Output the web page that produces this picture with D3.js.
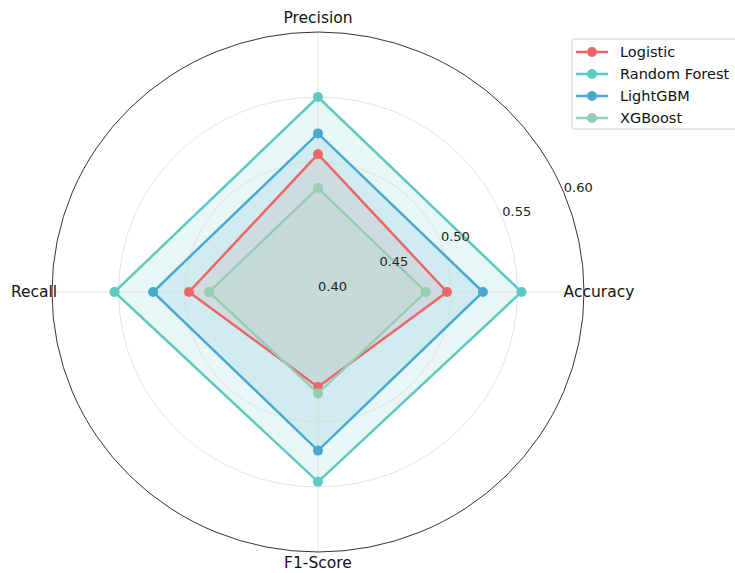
<!DOCTYPE html>
<html>
<head>
<meta charset="utf-8">
<script src="https://cdn.jsdelivr.net/npm/d3@7"></script>
<style>
  body { margin: 0; background: #fff; }
  svg { font-family: "DejaVu Sans", sans-serif; }
</style>
</head>
<body>
<svg id="radar" width="735" height="573"></svg>
<script>
// metrics (axes) and model scores
const metrics = ["Accuracy", "Precision", "Recall", "F1-Score"];
const models = ["Logistic", "Random Forest", "LightGBM", "XGBoost"];
const logistic = [0.497, 0.506, 0.497, 0.473];
const randomForest = [0.553, 0.550, 0.553, 0.546];
const lightGBM = [0.524, 0.522, 0.524, 0.522];
const xgBoost = [0.481, 0.480, 0.482, 0.478];
const rTicks = [0.40, 0.45, 0.50, 0.55, 0.60];
const colors = ["#ec6669", "#5ec9c0", "#47a9cf", "#98cdb3"];

const series = [logistic, randomForest, lightGBM, xgBoost];

const svg = d3.select("#radar");
const cx = 318, cy = 292;

// picture is a touch squashed vertically, so x and y radii differ
const rx = d3.scaleLinear().domain([0.40, 0.60]).range([0, 266]);
const ry = d3.scaleLinear().domain([0.40, 0.60]).range([0, 260]);
const angle = d3.scalePoint().domain(metrics).range([0, 2 * Math.PI * 3 / 4]);

function px(m, v) { return cx + rx(v) * Math.cos(angle(m)); }
function py(m, v) { return cy - ry(v) * Math.sin(angle(m)); }

const line = d3.line().curve(d3.curveLinearClosed);
const pointsOf = vals => metrics.map((m, j) => [px(m, vals[j]), py(m, vals[j])]);

// fills go under everything (like matplotlib patches)
svg.append("g").selectAll("path")
  .data(series)
  .join("path")
  .attr("d", d => line(pointsOf(d)))
  .attr("fill", (d, i) => colors[i])
  .attr("fill-opacity", 0.14)
  .attr("stroke", "none");

const grid = svg.append("g");

// rings
grid.selectAll("ellipse.ring")
  .data(rTicks.slice(1, -1))
  .join("ellipse")
  .attr("cx", cx).attr("cy", cy)
  .attr("rx", d => rx(d)).attr("ry", d => ry(d))
  .attr("fill", "none")
  .attr("stroke", "#d8d8d8")
  .attr("stroke-opacity", 0.7)
  .attr("stroke-width", 1);

// spokes
grid.selectAll("line.spoke")
  .data(metrics)
  .join("line")
  .attr("x1", cx).attr("y1", cy)
  .attr("x2", d => px(d, 0.60)).attr("y2", d => py(d, 0.60))
  .attr("stroke", "#d8d8d8")
  .attr("stroke-opacity", 0.7)
  .attr("stroke-width", 1);

// outer frame
grid.append("ellipse")
  .attr("cx", cx).attr("cy", cy)
  .attr("rx", rx(0.60)).attr("ry", ry(0.60))
  .attr("fill", "none")
  .attr("stroke", "#333")
  .attr("stroke-width", 1);

// lines and markers on top
const layers = svg.append("g");
series.forEach((vals, i) => {
  const pts = pointsOf(vals);
  const g = layers.append("g");
  g.append("path")
    .attr("d", line(pts))
    .attr("fill", "none")
    .attr("stroke", colors[i])
    .attr("stroke-width", 2.5)
    .attr("stroke-linejoin", "miter");
  g.selectAll("circle")
    .data(pts)
    .join("circle")
    .attr("cx", d => d[0]).attr("cy", d => d[1])
    .attr("r", 5)
    .attr("fill", colors[i]);
});

// radial tick labels at 22.5 deg
const a = 22.5 * Math.PI / 180;
svg.append("g").selectAll("text")
  .data(rTicks)
  .join("text")
  .attr("x", d => cx + rx(d) * Math.cos(a))
  .attr("y", d => cy - ry(d) * Math.sin(a) - 1)
  .attr("font-size", 13)
  .attr("fill", "#222")
  .text(d => d.toFixed(2));

// axis labels
const labelPos = {
  "Accuracy": { x: 599, y: 292 },
  "Precision": { x: 318, y: 18 },
  "Recall": { x: 34, y: 292 },
  "F1-Score": { x: 318, y: 563 }
};
svg.append("g").selectAll("text")
  .data(metrics)
  .join("text")
  .attr("x", d => labelPos[d].x)
  .attr("y", d => labelPos[d].y)
  .attr("text-anchor", "middle")
  .attr("dominant-baseline", "central")
  .attr("font-size", 15.5)
  .attr("fill", "#111")
  .text(d => d);

// legend
const legend = svg.append("g").attr("transform", "translate(572,39)");
legend.append("rect")
  .attr("width", 190).attr("height", 90)
  .attr("rx", 3)
  .attr("fill", "#fff")
  .attr("stroke", "#d0d0d0");
models.forEach((name, i) => {
  const y = 13 + i * 22;
  legend.append("line")
    .attr("x1", 4).attr("x2", 36).attr("y1", y).attr("y2", y)
    .attr("stroke", colors[i]).attr("stroke-width", 2.5);
  legend.append("circle")
    .attr("cx", 20).attr("cy", y).attr("r", 5)
    .attr("fill", colors[i]);
  legend.append("text")
    .attr("x", 48).attr("y", y)
    .attr("dominant-baseline", "central")
    .attr("font-size", 14.5)
    .attr("fill", "#111")
    .text(name);
});
</script>
</body>
</html>
